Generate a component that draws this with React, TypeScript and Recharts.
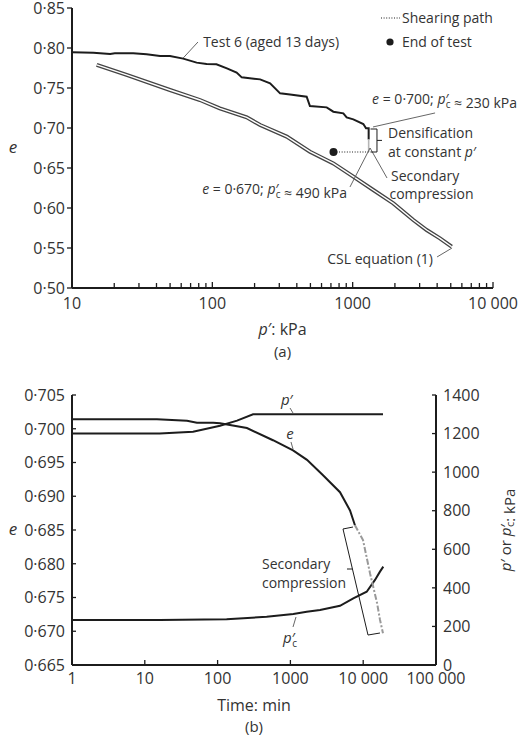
import React from "react";
import {
  ComposedChart,
  Line,
  Scatter,
  XAxis,
  YAxis,
  ReferenceLine,
  ReferenceDot,
} from "recharts";

const FONT = '"Open Sans", "Noto Sans", sans-serif';
const INK = "#1c1c1c";
const TEXT = "#333";
const LEAD = "#555";

// ---- (a) void ratio e against p' (kPa) ----
const test6P = [10, 14.2, 18.7, 20.2, 27.3, 34, 42.4, 49.9, 62, 77.3, 91.1, 107, 127, 149, 162, 219, 258, 304, 358, 470, 496, 653, 728, 858, 906, 1011, 1191, 1245, 1300, 1300];
const test6E = [0.7946, 0.7942, 0.7925, 0.7933, 0.7933, 0.7921, 0.79, 0.79, 0.7867, 0.7817, 0.78, 0.7796, 0.7746, 0.7692, 0.7633, 0.7608, 0.7558, 0.7433, 0.742, 0.7392, 0.7275, 0.7258, 0.7204, 0.7183, 0.7133, 0.7108, 0.705, 0.6996, 0.6996, 0.6857];

const densP = [1300, 1300];
const densE = [0.6857, 0.67];

const shearP = [1300, 730];
const shearE = [0.67, 0.67];

const endP = [730];
const endE = [0.67];

const cslP = [15, 24.5, 49.9, 81.6, 113, 176, 219, 339, 496, 728, 1011, 1403, 1950, 2706, 3367, 4188, 5077];
const cslE = [0.7788, 0.7663, 0.7475, 0.735, 0.7246, 0.7133, 0.7038, 0.6892, 0.6704, 0.6558, 0.6392, 0.6225, 0.6058, 0.585, 0.5725, 0.5621, 0.5516];

const pTicks = [10, 20, 30, 40, 50, 60, 70, 80, 90, 100, 200, 300, 400, 500, 600, 700, 800, 900, 1000, 2000, 3000, 4000, 5000, 6000, 7000, 8000, 9000, 10000];
const pMajor = [10, 100, 1000, 10000];
const eTicksA = [0.5, 0.55, 0.6, 0.65, 0.7, 0.75, 0.8, 0.85];

// ---- (b) e, p' and p'c against time (min) ----
const eTime = [1, 14.7, 38, 52, 87, 108, 253, 577, 1087, 1690, 2806, 4800, 6590, 7700];
const eVoid = [0.7014, 0.7014, 0.7012, 0.7009, 0.7009, 0.7008, 0.7001, 0.6983, 0.6968, 0.6954, 0.6931, 0.6906, 0.6879, 0.6857];

const secTime = [7700, 9940, 12400, 15490, 17000, 18700];
const secVoid = [0.6857, 0.6835, 0.6786, 0.6742, 0.6717, 0.6697];

const pTime = [1, 10, 16, 46, 108, 185, 307, 1000, 5000, 18700];
const pEff = [1200, 1200, 1201, 1210, 1241, 1267, 1300, 1300, 1300, 1300];

const pcTime = [1, 16.1, 133, 472, 1097, 1675, 2553, 4800, 7310, 11170, 14520, 17000, 18880];
const pcKpa = [233, 233, 237, 250, 264, 276, 285, 307, 346, 380, 441, 484, 510];

const tTicks = [1, 10, 100, 1000, 10000, 100000];
const eTicksB = [0.665, 0.67, 0.675, 0.68, 0.685, 0.69, 0.695, 0.7, 0.705];
const kpaTicks = [0, 200, 400, 600, 800, 1000, 1200, 1400];

const zipA = (xs: number[], ys: number[]) => xs.map((p, i) => ({ p, e: ys[i] }));
const zipB = (xs: number[], ys: number[], key: string) => xs.map((t, i) => ({ t, [key]: ys[i] }));

const test6 = zipA(test6P, test6E);
const dens = zipA(densP, densE);
const shear = zipA(shearP, shearE);
const endOfTest = zipA(endP, endE);
const csl = zipA(cslP, cslE);

const eSeries = zipB(eTime, eVoid, "e");
const secSeries = zipB(secTime, secVoid, "e");
const pSeries = zipB(pTime, pEff, "k");
const pcSeries = zipB(pcTime, pcKpa, "k");

const bigNum = (v: number) => (v >= 10000 ? `${v / 1000} 000` : `${v}`);

// p'c with the prime over the subscript c
const pc = (sub = 10) => (
  <>
    <tspan fontStyle="italic">p</tspan>
    <tspan>′</tspan>
    <tspan dx={-3} dy={4} fontSize={sub}>c</tspan>
    <tspan dy={-4}>{""}</tspan>
  </>
);

function note(key: string, x: number, y: number, yAxisId: string, body: React.ReactNode, anchor: "start" | "middle" | "end" = "start", size = 14) {
  return (
    <ReferenceDot
      key={key}
      x={x}
      y={y}
      r={0}
      yAxisId={yAxisId}
      ifOverflow="visible"
      fill="none"
      stroke="none"
      label={(p: any) => {
        const vb = p.viewBox ?? p;
        return (
          <text x={vb.x} y={vb.y} textAnchor={anchor} fontSize={size} fill={TEXT}>
            {body}
          </text>
        );
      }}
    />
  );
}

function seg(key: string, a: [number, number], b: [number, number], yAxisId: string, stroke = LEAD, w = 0.9) {
  return (
    <ReferenceLine
      key={key}
      yAxisId={yAxisId}
      segment={[{ x: a[0], y: a[1] }, { x: b[0], y: b[1] }]}
      stroke={stroke}
      strokeWidth={w}
      ifOverflow="visible"
    />
  );
}

const LogTickA = (props: any) => {
  const { x, y, payload } = props;
  const major = pMajor.includes(payload.value);
  return (
    <g>
      <line x1={x} x2={x} y1={y} y2={y - (major ? 6 : 5)} stroke={INK} strokeWidth={1.3} />
      {major && (
        <text x={x} y={y + 21} textAnchor="middle" fontSize={16} fill={TEXT}>
          {bigNum(payload.value)}
        </text>
      )}
    </g>
  );
};

const LogTickB = (props: any) => {
  const { x, y, payload } = props;
  return (
    <g>
      <line x1={x} x2={x} y1={y} y2={y - 5} stroke={INK} strokeWidth={1.3} />
      <text x={x} y={y + 19} textAnchor="middle" fontSize={16} fill={TEXT}>
        {bigNum(payload.value)}
      </text>
    </g>
  );
};

const LeftTickB = (props: any) => {
  const { x, y, payload } = props;
  return (
    <g>
      <line x1={x} x2={x + 4} y1={y} y2={y} stroke={INK} strokeWidth={1.3} />
      <text x={x - 7} y={y} dy="0.36em" textAnchor="end" fontSize={16} fill={TEXT}>
        {payload.value.toFixed(3).replace(".", "·")}
      </text>
    </g>
  );
};

const RightTickB = (props: any) => {
  const { x, y, payload } = props;
  return (
    <g>
      <line x1={x} x2={x - 4} y1={y} y2={y} stroke={INK} strokeWidth={1.3} />
      <text x={x + 7} y={y} dy="0.36em" textAnchor="start" fontSize={16} fill={TEXT}>
        {payload.value}
      </text>
    </g>
  );
};

const axisLine = { stroke: INK, strokeWidth: 2 };

function LegendA() {
  return (
    <svg width={142} height={46} style={{ display: "block" }}>
      <line x1={3} x2={22} y1={12} y2={12} stroke={INK} strokeWidth={1.2} strokeDasharray="1 1.6" />
      <text x={24} y={17} fontSize={14} fill={TEXT}>Shearing path</text>
      <circle cx={12} cy={36} r={3.6} fill={INK} />
      <text x={24} y={41} fontSize={14} fill={TEXT}>End of test</text>
    </svg>
  );
}

function ChartA() {
  return (
    <ComposedChart width={520} height={368} margin={{ top: 8, right: 27, bottom: 20, left: 4 }}>
      <XAxis
        dataKey="p"
        type="number"
        scale="log"
        domain={[10, 10000]}
        ticks={pTicks}
        interval={0}
        allowDataOverflow
        tick={LogTickA}
        tickLine={false}
        tickSize={0}
        tickMargin={0}
        height={60}
        axisLine={axisLine}
        label={(p: any) => {
          const vb = p.viewBox;
          const cx = vb.x + vb.width / 2;
          return (
            <g>
              <text x={cx} y={vb.y + 47} textAnchor="middle" fontSize={16} fill={TEXT}>
                <tspan fontStyle="italic">p</tspan>′: kPa
              </text>
              <text x={cx} y={vb.y + 69} textAnchor="middle" fontSize={15} fill={TEXT}>
                (a)
              </text>
            </g>
          );
        }}
      />
      <YAxis
        yAxisId="e"
        type="number"
        domain={[0.5, 0.85]}
        ticks={eTicksA}
        interval={0}
        width={68}
        tickSize={5}
        tickMargin={2}
        tick={{ fontSize: 16, fill: TEXT }}
        tickLine={{ stroke: INK, strokeWidth: 1.3 }}
        axisLine={axisLine}
        tickFormatter={(v: number) => v.toFixed(2).replace(".", "·")}
        label={(p: any) => {
          const vb = p.viewBox;
          return (
            <text x={vb.x + 9} y={vb.y + vb.height / 2 + 5} textAnchor="middle" fontSize={17} fontStyle="italic" fill={TEXT}>
              e
            </text>
          );
        }}
      />

      <Line yAxisId="e" data={csl} dataKey="e" type="linear" stroke="#444" strokeWidth={4} dot={false} isAnimationActive={false} />
      <Line yAxisId="e" data={csl} dataKey="e" type="linear" stroke="#fff" strokeWidth={1.4} dot={false} isAnimationActive={false} />
      <Line yAxisId="e" data={test6} dataKey="e" type="linear" stroke={INK} strokeWidth={2} dot={false} isAnimationActive={false} />
      <Line yAxisId="e" data={dens} dataKey="e" type="linear" stroke="#b5b5b5" strokeWidth={1.6} dot={false} isAnimationActive={false} />
      <Line yAxisId="e" data={shear} dataKey="e" type="linear" stroke={INK} strokeWidth={1.2} strokeDasharray="1 1.6" dot={false} isAnimationActive={false} />
      <Scatter
        yAxisId="e"
        data={endOfTest}
        dataKey="e"
        isAnimationActive={false}
        shape={(p: any) => <circle cx={p.cx} cy={p.cy} r={4} fill={INK} />}
      />

      {/* leaders */}
      {seg("l1", [79, 0.8075], [62, 0.7875], "e")}
      {seg("l2", [3865, 0.7188], [1396, 0.7013], "e")}
      {seg("l3", [1330, 0.675], [1757, 0.6375], "e")}
      {seg("l4", [957, 0.6263], [1330, 0.675], "e")}
      {seg("l5", [3993, 0.5388], [5106, 0.55], "e")}
      {/* brace: densification */}
      {seg("b1", [1340, 0.69875], [1490, 0.69875], "e", INK, 1)}
      {seg("b2", [1490, 0.69875], [1490, 0.67], "e", INK, 1)}
      {seg("b3", [1490, 0.67], [1340, 0.67], "e", INK, 1)}
      {seg("b4", [1490, 0.6845], [1618, 0.6845], "e", INK, 1)}

      {note("t1", 86, 0.8013, "e", "Test 6 (aged 13 days)")}
      {note(
        "t2",
        14830,
        0.73,
        "e",
        <>
          <tspan fontStyle="italic">e</tspan>
          <tspan>{" = 0·700; "}</tspan>
          {pc()}
          <tspan>{" ≈ 230 kPa"}</tspan>
        </>,
        "end"
      )}
      {note("t3", 1786, 0.6875, "e", "Densification")}
      {note(
        "t4",
        1786,
        0.6637,
        "e",
        <>
          <tspan>at constant </tspan>
          <tspan fontStyle="italic">p</tspan>
          <tspan>′</tspan>
        </>
      )}
      {note("t5", 1875, 0.6338, "e", "Secondary")}
      {note("t6", 1830, 0.6113, "e", "compression")}
      {note(
        "t7",
        912,
        0.6175,
        "e",
        <>
          <tspan fontStyle="italic">e</tspan>
          <tspan>{" = 0·670; "}</tspan>
          {pc()}
          <tspan>{" ≈ 490 kPa"}</tspan>
        </>,
        "end"
      )}
      {note("t8", 3733, 0.53, "e", "CSL equation (1)", "end")}
    </ComposedChart>
  );
}

function ChartB() {
  return (
    <ComposedChart width={520} height={367} margin={{ top: 25, right: 4, bottom: 12, left: 4 }}>
      <XAxis
        dataKey="t"
        type="number"
        scale="log"
        domain={[1, 100000]}
        ticks={tTicks}
        interval={0}
        allowDataOverflow
        tick={LogTickB}
        tickLine={false}
        tickSize={0}
        tickMargin={0}
        height={60}
        axisLine={axisLine}
        label={(p: any) => {
          const vb = p.viewBox;
          const cx = vb.x + vb.width / 2;
          return (
            <g>
              <text x={cx} y={vb.y + 46} textAnchor="middle" fontSize={16} fill={TEXT}>
                Time: min
              </text>
              <text x={cx} y={vb.y + 67} textAnchor="middle" fontSize={15} fill={TEXT}>
                (b)
              </text>
            </g>
          );
        }}
      />
      <YAxis
        yAxisId="e"
        type="number"
        domain={[0.665, 0.705]}
        ticks={eTicksB}
        interval={0}
        width={68}
        tick={LeftTickB}
        tickLine={false}
        tickSize={0}
        tickMargin={0}
        axisLine={axisLine}
        label={(p: any) => {
          const vb = p.viewBox;
          return (
            <text x={vb.x + 9} y={vb.y + vb.height / 2 + 5} textAnchor="middle" fontSize={17} fontStyle="italic" fill={TEXT}>
              e
            </text>
          );
        }}
      />
      <YAxis
        yAxisId="kpa"
        orientation="right"
        type="number"
        domain={[0, 1400]}
        ticks={kpaTicks}
        interval={0}
        width={80}
        tick={RightTickB}
        tickLine={false}
        tickSize={0}
        tickMargin={0}
        axisLine={axisLine}
        label={(p: any) => {
          const vb = p.viewBox;
          const cx = vb.x + 69;
          const cy = vb.y + vb.height / 2;
          return (
            <text
              x={cx}
              y={cy}
              transform={`rotate(-90, ${cx}, ${cy})`}
              textAnchor="middle"
              dominantBaseline="central"
              fontSize={15}
              fill={TEXT}
            >
              <tspan fontStyle="italic">p</tspan>
              <tspan>′ or </tspan>
              {pc(11)}
              <tspan>: kPa</tspan>
            </text>
          );
        }}
      />

      <Line yAxisId="kpa" data={pSeries} dataKey="k" type="linear" stroke={INK} strokeWidth={2} dot={false} isAnimationActive={false} />
      <Line yAxisId="kpa" data={pcSeries} dataKey="k" type="linear" stroke={INK} strokeWidth={2} dot={false} isAnimationActive={false} />
      <Line yAxisId="e" data={eSeries} dataKey="e" type="linear" stroke={INK} strokeWidth={2} dot={false} isAnimationActive={false} />
      <Line yAxisId="e" data={secSeries} dataKey="e" type="linear" stroke="#999" strokeWidth={2} strokeDasharray="6 2 2 2" dot={false} isAnimationActive={false} />

      {/* bracket: secondary compression */}
      {seg("k1", [5280, 0.68515], [11640, 0.66944], "e", INK, 1)}
      {seg("k2", [5280, 0.68515], [7240, 0.68544], "e", INK, 1)}
      {seg("k3", [11640, 0.66944], [17000, 0.66974], "e", INK, 1)}
      {seg("k4", [7110, 0.67922], [5990, 0.67922], "e", INK, 1)}
      {/* leaders */}
      {seg("m1", [988, 0.70307], [1086, 0.70233], "e")}
      {seg("m2", [1019, 0.69804], [1086, 0.697], "e")}
      {seg("m3", [1086, 0.67063], [1194, 0.67211], "e")}

      {note(
        "u1",
        898,
        0.70352,
        "e",
        <>
          <tspan fontStyle="italic">p</tspan>
          <tspan>′</tspan>
        </>,
        "middle",
        15
      )}
      {note("u2", 988, 0.69848, "e", <tspan fontStyle="italic">e</tspan>, "middle", 15)}
      {note("u3", 988, 0.66826, "e", pc(), "middle", 15)}
      {note("u4", 407, 0.67922, "e", "Secondary")}
      {note("u5", 407, 0.67641, "e", "compression")}
    </ComposedChart>
  );
}

export default function App() {
  return (
    <div
      style={{
        position: "absolute",
        left: 0,
        top: 0,
        width: 520,
        height: 737,
        background: "#fff",
        fontFamily: FONT,
      }}
    >
      <div style={{ position: "absolute", left: 0, top: 0 }}>
        <ChartA />
      </div>
      <div style={{ position: "absolute", left: 378, top: 6 }}>
        <LegendA />
      </div>
      <div style={{ position: "absolute", left: 0, top: 370 }}>
        <ChartB />
      </div>
    </div>
  );
}
